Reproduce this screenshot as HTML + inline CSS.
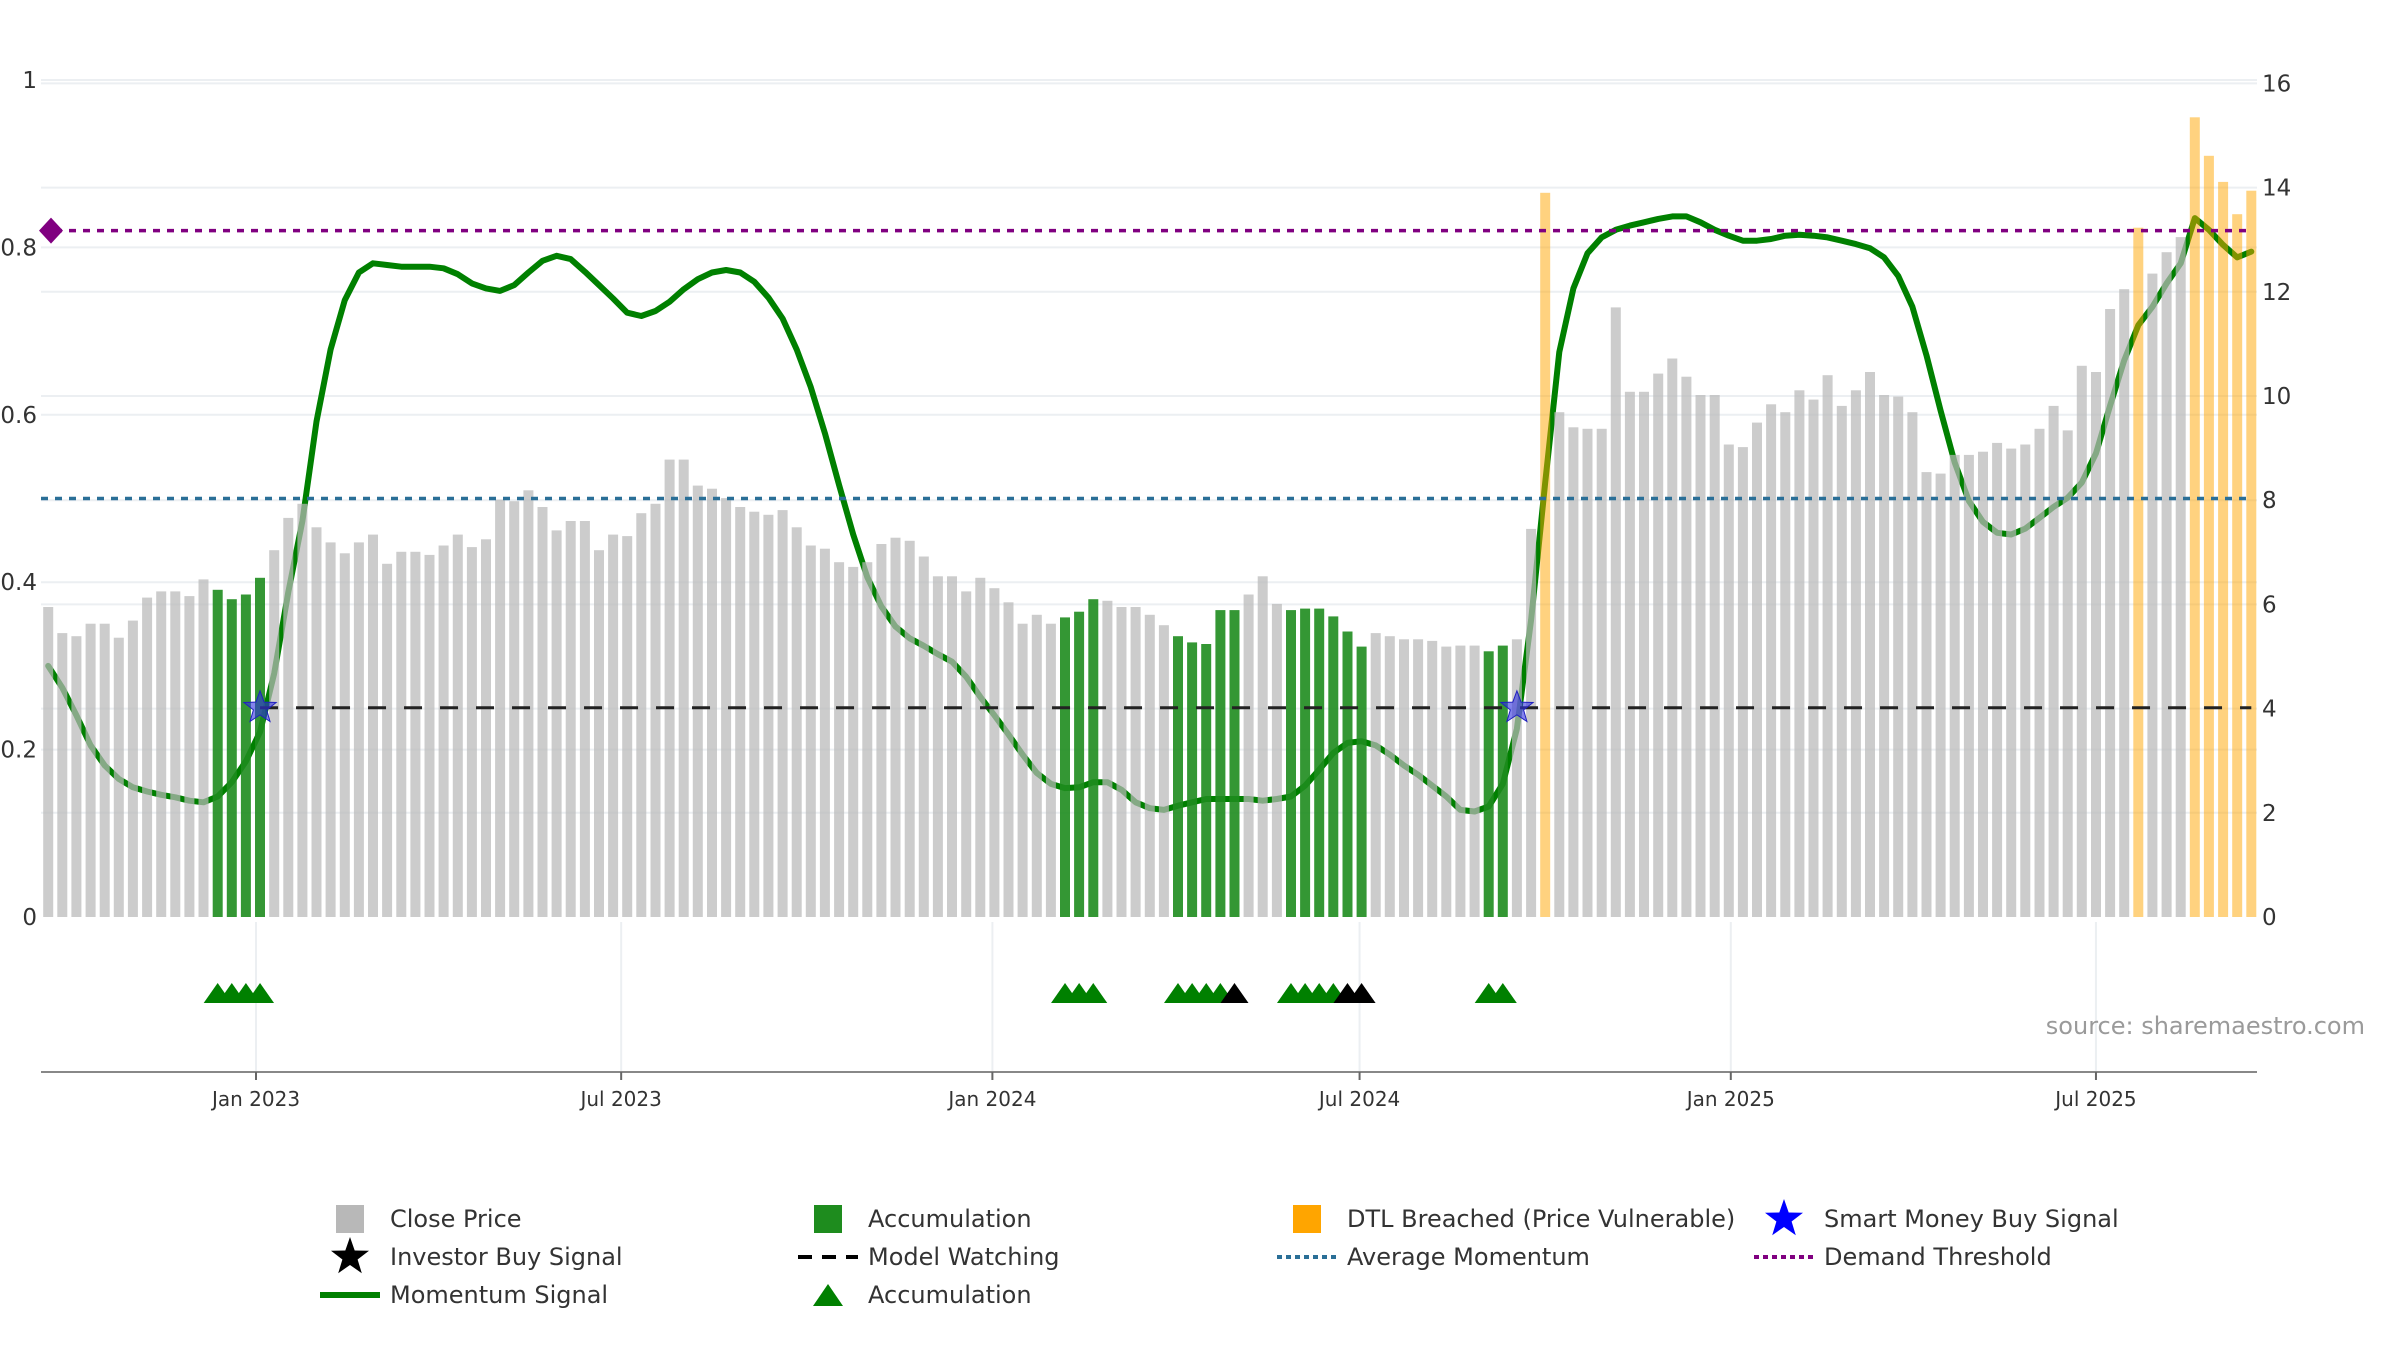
<!DOCTYPE html>
<html><head><meta charset="utf-8">
<style>
html,body{margin:0;padding:0;background:#fff;}
svg{display:block;font-family:"DejaVu Sans","Liberation Sans",sans-serif;}
</style></head>
<body>
<svg id="chart" width="2400" height="1350" viewBox="0 0 2400 1350" xmlns="http://www.w3.org/2000/svg">
  <g id="grid"></g>
  <g id="lines"></g>
  <g id="bars"></g>
  <g id="refs"></g>
  <g id="marks"></g>
  <g id="axes"></g>
  <text x="2365" y="1034" text-anchor="end" font-size="24" fill="#9a9a9a">source: sharemaestro.com</text>
  <g id="legend"></g>
</svg>
<script>
// ---- data ----
const startDate = "2022-09-20";
const closePrices = [5.95,5.45,5.39,5.63,5.63,5.36,5.69,6.13,6.25,6.25,
6.16,6.48,6.28,6.10,6.19,6.51,7.04,7.66,7.93,7.48,
7.19,6.98,7.19,7.34,6.78,7.01,7.01,6.95,7.13,7.34,
7.10,7.25,8.01,7.98,8.19,7.87,7.42,7.60,7.60,7.04,
7.34,7.31,7.75,7.93,8.78,8.78,8.28,8.22,8.04,7.87,
7.78,7.72,7.81,7.48,7.13,7.07,6.81,6.72,6.81,7.16,
7.28,7.22,6.92,6.54,6.54,6.25,6.51,6.31,6.04,5.63,
5.80,5.63,5.75,5.86,6.10,6.07,5.95,5.95,5.80,5.60,
5.39,5.27,5.24,5.89,5.89,6.19,6.54,6.01,5.89,5.92,
5.92,5.77,5.48,5.19,5.45,5.39,5.33,5.33,5.30,5.19,
5.21,5.21,5.10,5.21,5.33,7.45,13.9,9.69,9.40,9.37,
9.37,11.70,10.08,10.08,10.43,10.72,10.37,10.02,10.02,9.07,
9.02,9.49,9.84,9.69,10.11,9.93,10.40,9.81,10.11,10.46,
10.02,9.99,9.69,8.54,8.51,8.87,8.87,8.93,9.10,8.99,
9.07,9.37,9.81,9.34,10.58,10.46,11.67,12.05,13.23,12.35,
12.76,13.05,15.35,14.61,14.11,13.49,13.94];
const momentum = [0.300,0.274,0.241,0.205,0.181,0.165,0.155,0.150,0.146,0.143,
0.139,0.137,0.144,0.161,0.186,0.221,0.291,0.388,0.473,0.592,
0.678,0.737,0.770,0.781,0.779,0.777,0.777,0.777,0.775,0.768,
0.757,0.751,0.748,0.755,0.770,0.784,0.790,0.786,0.771,0.755,
0.739,0.722,0.718,0.724,0.735,0.750,0.762,0.770,0.773,0.770,
0.759,0.740,0.715,0.678,0.633,0.578,0.516,0.457,0.406,0.371,
0.347,0.333,0.324,0.314,0.305,0.287,0.263,0.241,0.218,0.194,
0.172,0.159,0.154,0.155,0.161,0.161,0.152,0.137,0.130,0.128,
0.133,0.137,0.141,0.141,0.141,0.141,0.139,0.141,0.144,0.157,
0.176,0.196,0.208,0.210,0.205,0.194,0.181,0.170,0.157,0.144,
0.128,0.126,0.132,0.159,0.225,0.355,0.519,0.675,0.751,0.793,
0.812,0.821,0.826,0.830,0.834,0.837,0.837,0.830,0.821,0.814,
0.808,0.808,0.810,0.814,0.815,0.814,0.812,0.808,0.804,0.799,
0.788,0.766,0.729,0.671,0.605,0.543,0.497,0.472,0.459,0.457,
0.464,0.477,0.490,0.501,0.519,0.554,0.611,0.665,0.707,0.729,
0.757,0.781,0.835,0.821,0.803,0.788,0.795];
const accumBars = [12,13,14,15,72,73,74,80,81,82,83,84,88,89,90,91,92,93,102,103];
const dtlBars = [106,148,152,153,154,155,156];
const accumTriangles = [12,13,14,15,72,73,74,80,81,82,83,88,89,90,91,102,103];
const investorTriangles = [84,92,93];
const smartMoneyStars = [15,104];
const watchStart = 15;
const avgMomentum = 0.5;
const demandThreshold = 0.82;
const watchLevel = 0.25;
const leftTicks = [0,0.2,0.4,0.6,0.8,1];
const leftTickLabels = ["0","0.2","0.4","0.6","0.8","1"];
const rightTicks = [0,2,4,6,8,10,12,14,16];
const dateTicks = ["2023-01-01","2023-07-01","2024-01-01","2024-07-01","2025-01-01","2025-07-01"];
const dateTickLabels = ["Jan 2023","Jul 2023","Jan 2024","Jul 2024","Jan 2025","Jul 2025"];

// ---- scales ----
const NS="http://www.w3.org/2000/svg";
const X0=41, X1=2257, Y0=917, YB=1072;
const refT = Date.parse("2023-01-01"), refX=256, pxDay=2.0175;
function xDate(s){return refX+(Date.parse(s)-refT)/86400000*pxDay;}
function xBar(i){return refX+((Date.parse(startDate)-refT)/86400000+7*i)*pxDay;}
function yL(v){return Y0-v*837;}
function yR(v){return Y0-v*52.1;}
function mk(tag,attrs,parent){const e=document.createElementNS(NS,tag);for(const k in attrs)e.setAttribute(k,attrs[k]);parent.appendChild(e);return e;}
function starPts(cx,cy,R,r){let p=[];for(let k=0;k<10;k++){const a=-Math.PI/2+k*Math.PI/5;const rr=k%2?r:R;p.push((cx+rr*Math.cos(a)).toFixed(1)+","+(cy+rr*Math.sin(a)).toFixed(1));}return p.join(" ");}
function triPts(cx,cy,w,h){return `${cx-w/2},${cy+h/2} ${cx},${cy-h/2} ${cx+w/2},${cy+h/2}`;}

const grid=document.getElementById('grid'), bars=document.getElementById('bars'),
lines=document.getElementById('lines'), refs=document.getElementById('refs'),
marks=document.getElementById('marks'), axes=document.getElementById('axes'), legend=document.getElementById('legend');

// grid
leftTicks.forEach((v,i)=>{ if(v===0)return;
  const l=mk('line',{x1:X0,x2:X1,y1:yL(v),y2:yL(v),stroke:'#eceff2','stroke-width':2},grid);
  
  
});
rightTicks.forEach(v=>{ if(v===0)return;
  const l=mk('line',{x1:X0,x2:X1,y1:yR(v),y2:yR(v),stroke:'#eceff2','stroke-width':2},grid);
  
  
});
dateTicks.forEach(d=>{
  const l=mk('line',{x1:xDate(d),x2:xDate(d),y1:922,y2:YB,stroke:'#eceff2','stroke-width':2},grid);
  
  
});

// momentum line
const mpts=momentum.map((v,i)=>xBar(i).toFixed(1)+","+yL(v).toFixed(1)).join(" ");
const ml=mk('polyline',{points:mpts,fill:'none',stroke:'#008000','stroke-width':6,'stroke-linejoin':'round','stroke-linecap':'round'},lines);



// bars
closePrices.forEach((v,i)=>{
  let fill='#b8b8b8',op=0.72,name='close-price-bar';
  if(accumBars.includes(i)){fill='#1e8c1e';op=0.9;name='accumulation-bar';}
  if(dtlBars.includes(i)){fill='#ffa500';op=0.5;name='dtl-breached-bar';}
  const b=mk('rect',{x:(xBar(i)-5).toFixed(1),y:yR(v).toFixed(1),width:10,height:(Y0-yR(v)).toFixed(1),fill:fill,'fill-opacity':op},bars);
  
  
});

// reference lines
let r=mk('line',{x1:X0,x2:xBar(closePrices.length-1),y1:yL(demandThreshold),y2:yL(demandThreshold),stroke:'#800080','stroke-width':3.5,'stroke-dasharray':'7 7'},refs);


r=mk('line',{x1:X0,x2:xBar(closePrices.length-1),y1:yL(avgMomentum),y2:yL(avgMomentum),stroke:'#2a6f97','stroke-width':3.5,'stroke-dasharray':'7 7'},refs);


r=mk('line',{x1:xBar(watchStart),x2:xBar(closePrices.length-1),y1:yL(watchLevel),y2:yL(watchLevel),stroke:'#222','stroke-width':3,'stroke-dasharray':'18 18'},refs);


r=mk('polygon',{points:`${X0-2},${yL(demandThreshold)} ${X0+10},${yL(demandThreshold)-13} ${X0+22},${yL(demandThreshold)} ${X0+10},${yL(demandThreshold)+13}`,fill:'#800080'},refs);



// markers
smartMoneyStars.forEach(i=>{
  const s=mk('polygon',{points:starPts(xBar(i),yL(watchLevel),17,7),fill:'#3030e0','fill-opacity':0.6,stroke:'#2020c0','stroke-width':1},marks);
  
  
});
accumTriangles.forEach(i=>{
  const t=mk('polygon',{points:triPts(xBar(i),993,28,20),fill:'#008000'},marks);
  
  
});
investorTriangles.forEach(i=>{
  const t=mk('polygon',{points:triPts(xBar(i),993,28,20),fill:'#000'},marks);
  
  
});

// axes
let ax=mk('line',{x1:X0,x2:X1,y1:YB,y2:YB,stroke:'#888','stroke-width':2},axes);


dateTicks.forEach((d,k)=>{
  const x=xDate(d);
  const t=mk('line',{x1:x,x2:x,y1:YB,y2:YB+8,stroke:'#666','stroke-width':2},axes);
  
  
  const tx=mk('text',{x:x,y:1106,'text-anchor':'middle','font-size':20,fill:'#333'},axes);
  tx.textContent=dateTickLabels[k];
  
  
});
leftTicks.forEach((v,k)=>{
  const tx=mk('text',{x:37,y:yL(v)+8,'text-anchor':'end','font-size':23,fill:'#333'},axes);
  tx.textContent=leftTickLabels[k];
  
  
});
rightTicks.forEach(v=>{
  const tx=mk('text',{x:2262,y:yR(v)+8,'text-anchor':'start','font-size':23,fill:'#333'},axes);
  tx.textContent=String(v);
  
  
});

// legend
const legendItems=[
 ['Close Price','sq','#b8b8b8',0,0],['Accumulation','sq','#1e8c1e',1,0],['DTL Breached (Price Vulnerable)','sq','#ffa500',2,0],['Smart Money Buy Signal','star','#0000ff',3,0],
 ['Investor Buy Signal','star','#000',0,1],['Model Watching','dash','#000',1,1],['Average Momentum','dot','#2a6f97',2,1],['Demand Threshold','dot','#800080',3,1],
 ['Momentum Signal','line','#008000',0,2],['Accumulation','tri','#008000',1,2]];
const colX=[350,828,1307,1784], rowY=[1219,1257,1295];
legendItems.forEach(([label,type,color,c,rw])=>{
  const g=mk('g',{},legend);
  
  
  const sx=colX[c], sy=rowY[rw];
  if(type==='sq') mk('rect',{x:sx-14,y:sy-14,width:28,height:28,fill:color},g);
  if(type==='star') mk('polygon',{points:starPts(sx,sy,20,8),fill:color},g);
  if(type==='dash') mk('line',{x1:sx-30,x2:sx+30,y1:sy,y2:sy,stroke:color,'stroke-width':4,'stroke-dasharray':'14 10'},g);
  if(type==='dot') mk('line',{x1:sx-30,x2:sx+30,y1:sy,y2:sy,stroke:color,'stroke-width':4,'stroke-dasharray':'5 4'},g);
  if(type==='line') mk('line',{x1:sx-30,x2:sx+30,y1:sy,y2:sy,stroke:color,'stroke-width':6},g);
  if(type==='tri') mk('polygon',{points:triPts(sx,sy,30,22),fill:color},g);
  const t=mk('text',{x:sx+40,y:sy+8,'font-size':24,fill:'#333'},g);
  t.textContent=label;
});
</script>
</body></html>
